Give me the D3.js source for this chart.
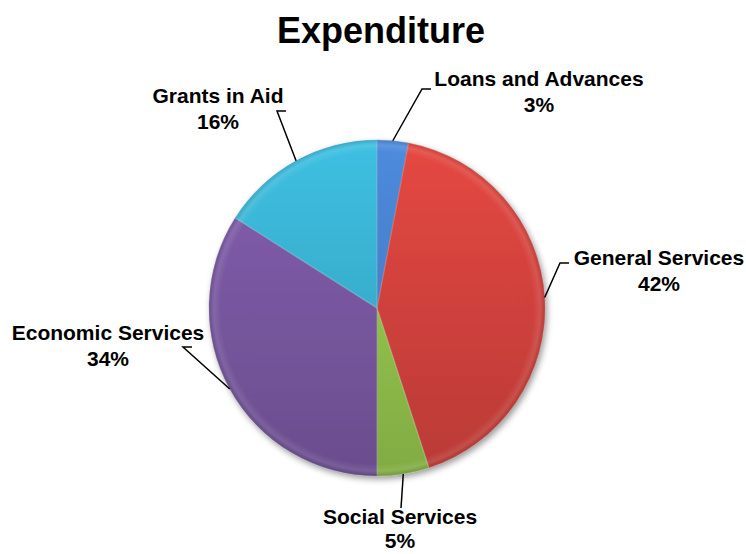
<!DOCTYPE html>
<html>
<head>
<meta charset="utf-8">
<script src="https://cdn.jsdelivr.net/npm/d3@7/dist/d3.min.js"></script>
<style>
  html, body { margin: 0; padding: 0; background: #fff; }
  svg text { font-family: Arial, "Liberation Sans", sans-serif; font-weight: bold; fill: #000; }
</style>
</head>
<body>
<svg id="chart" width="746" height="554"></svg>
<script>
// Expenditure shares (percent), drawn clockwise from 12 o'clock
const categories = ["Loans and Advances", "General Services", "Social Services", "Economic Services", "Grants in Aid"];
const shares = [3, 42, 5, 34, 16];
const baseColors = ["#4a84d2", "#d9443f", "#98c94f", "#7c5aa6", "#3bb6d6"];

// Label placement: text centre offset from the pie centre, line gap and leader-line end
const labelLayout = [
  { tx: 162, ty: -222, gap: 26, lx: 54, ly: -219, ex: 45, ey: -219 },
  { tx: 282, ty: -43, gap: 26, lx: 192, ly: -45, ex: 183, ey: -45 },
  { tx: 23, ty: 216, gap: 24, lx: 24, ly: 200, ex: 24, ey: 200 },
  { tx: -269, ty: 32, gap: 26, lx: -185, ly: 39, ex: -194, ey: 39 },
  { tx: -159, ty: -205, gap: 26, lx: -91, ly: -197, ex: -100, ey: -197 }
];

const svg = d3.select("#chart");
const cx = 377, cy = 308, R = 168;

svg.append("text")
  .attr("x", cx + 4).attr("y", 43)
  .attr("text-anchor", "middle")
  .style("font-size", "36px")
  .text("Expenditure");

const defs = svg.append("defs");

const shadow = defs.append("filter").attr("id", "pieShadow")
  .attr("x", "-20%").attr("y", "-20%").attr("width", "140%").attr("height", "140%");
shadow.append("feDropShadow")
  .attr("dx", 2).attr("dy", 3).attr("stdDeviation", 3)
  .attr("flood-color", "#000").attr("flood-opacity", 0.4);

// vertical shading per slice colour: lighter on top, deeper towards the bottom
baseColors.forEach((c, i) => {
  const g = defs.append("linearGradient").attr("id", "grad" + i)
    .attr("gradientUnits", "userSpaceOnUse")
    .attr("x1", 0).attr("y1", -R).attr("x2", 0).attr("y2", R);
  const col = d3.color(c);
  g.append("stop").attr("offset", "0%").attr("stop-color", col.brighter(0.15));
  g.append("stop").attr("offset", "100%").attr("stop-color", col.darker(0.45));
});

// soft bevel: light rim that fades towards the inside
const bevel = defs.append("radialGradient").attr("id", "bevel")
  .attr("gradientUnits", "userSpaceOnUse").attr("cx", 0).attr("cy", 0).attr("r", R);
bevel.append("stop").attr("offset", "0%").attr("stop-color", "#fff").attr("stop-opacity", 0);
bevel.append("stop").attr("offset", "93%").attr("stop-color", "#fff").attr("stop-opacity", 0);
bevel.append("stop").attr("offset", "97%").attr("stop-color", "#fff").attr("stop-opacity", 0.1);
bevel.append("stop").attr("offset", "100%").attr("stop-color", "#000").attr("stop-opacity", 0.12);

const data = categories.map((name, i) => ({ name, value: shares[i], i }));
const pie = d3.pie().sort(null).value(d => d.value).startAngle(0).endAngle(2 * Math.PI);
const arcs = pie(data);
const arc = d3.arc().innerRadius(0).outerRadius(R);

const g = svg.append("g").attr("transform", `translate(${cx},${cy})`);

const slices = g.append("g").attr("filter", "url(#pieShadow)");
slices.selectAll("path.slice")
  .data(arcs)
  .enter().append("path")
  .attr("class", "slice")
  .attr("d", arc)
  .attr("fill", d => `url(#grad${d.data.i})`)
  .attr("stroke", d => d3.color(baseColors[d.data.i]).darker(0.6))
  .attr("stroke-opacity", 0.3)
  .attr("stroke-width", 1);

g.selectAll("path.bevel")
  .data(arcs)
  .enter().append("path")
  .attr("class", "bevel")
  .attr("d", arc)
  .attr("fill", "url(#bevel)")
  .attr("stroke", "#fff")
  .attr("stroke-opacity", 0.1)
  .attr("stroke-width", 1.5)
  .attr("stroke-linejoin", "round");

// leader lines and labels
arcs.forEach((d, k) => {
  const L = labelLayout[k];
  const mid = (d.startAngle + d.endAngle) / 2;
  const px = R * Math.sin(mid), py = -R * Math.cos(mid);
  const pts = [[px, py], [L.ex, L.ey], [L.lx, L.ly]];
  g.append("path")
    .attr("d", d3.line()(pts))
    .attr("fill", "none")
    .attr("stroke", "#000")
    .attr("stroke-width", 1.5);
  const t = g.append("text")
    .attr("text-anchor", "middle")
    .style("font-size", "21px");
  t.append("tspan").attr("x", L.tx).attr("y", L.ty).text(d.data.name);
  t.append("tspan").attr("x", L.tx).attr("y", L.ty + L.gap).text(d.data.value + "%");
});
</script>
</body>
</html>
